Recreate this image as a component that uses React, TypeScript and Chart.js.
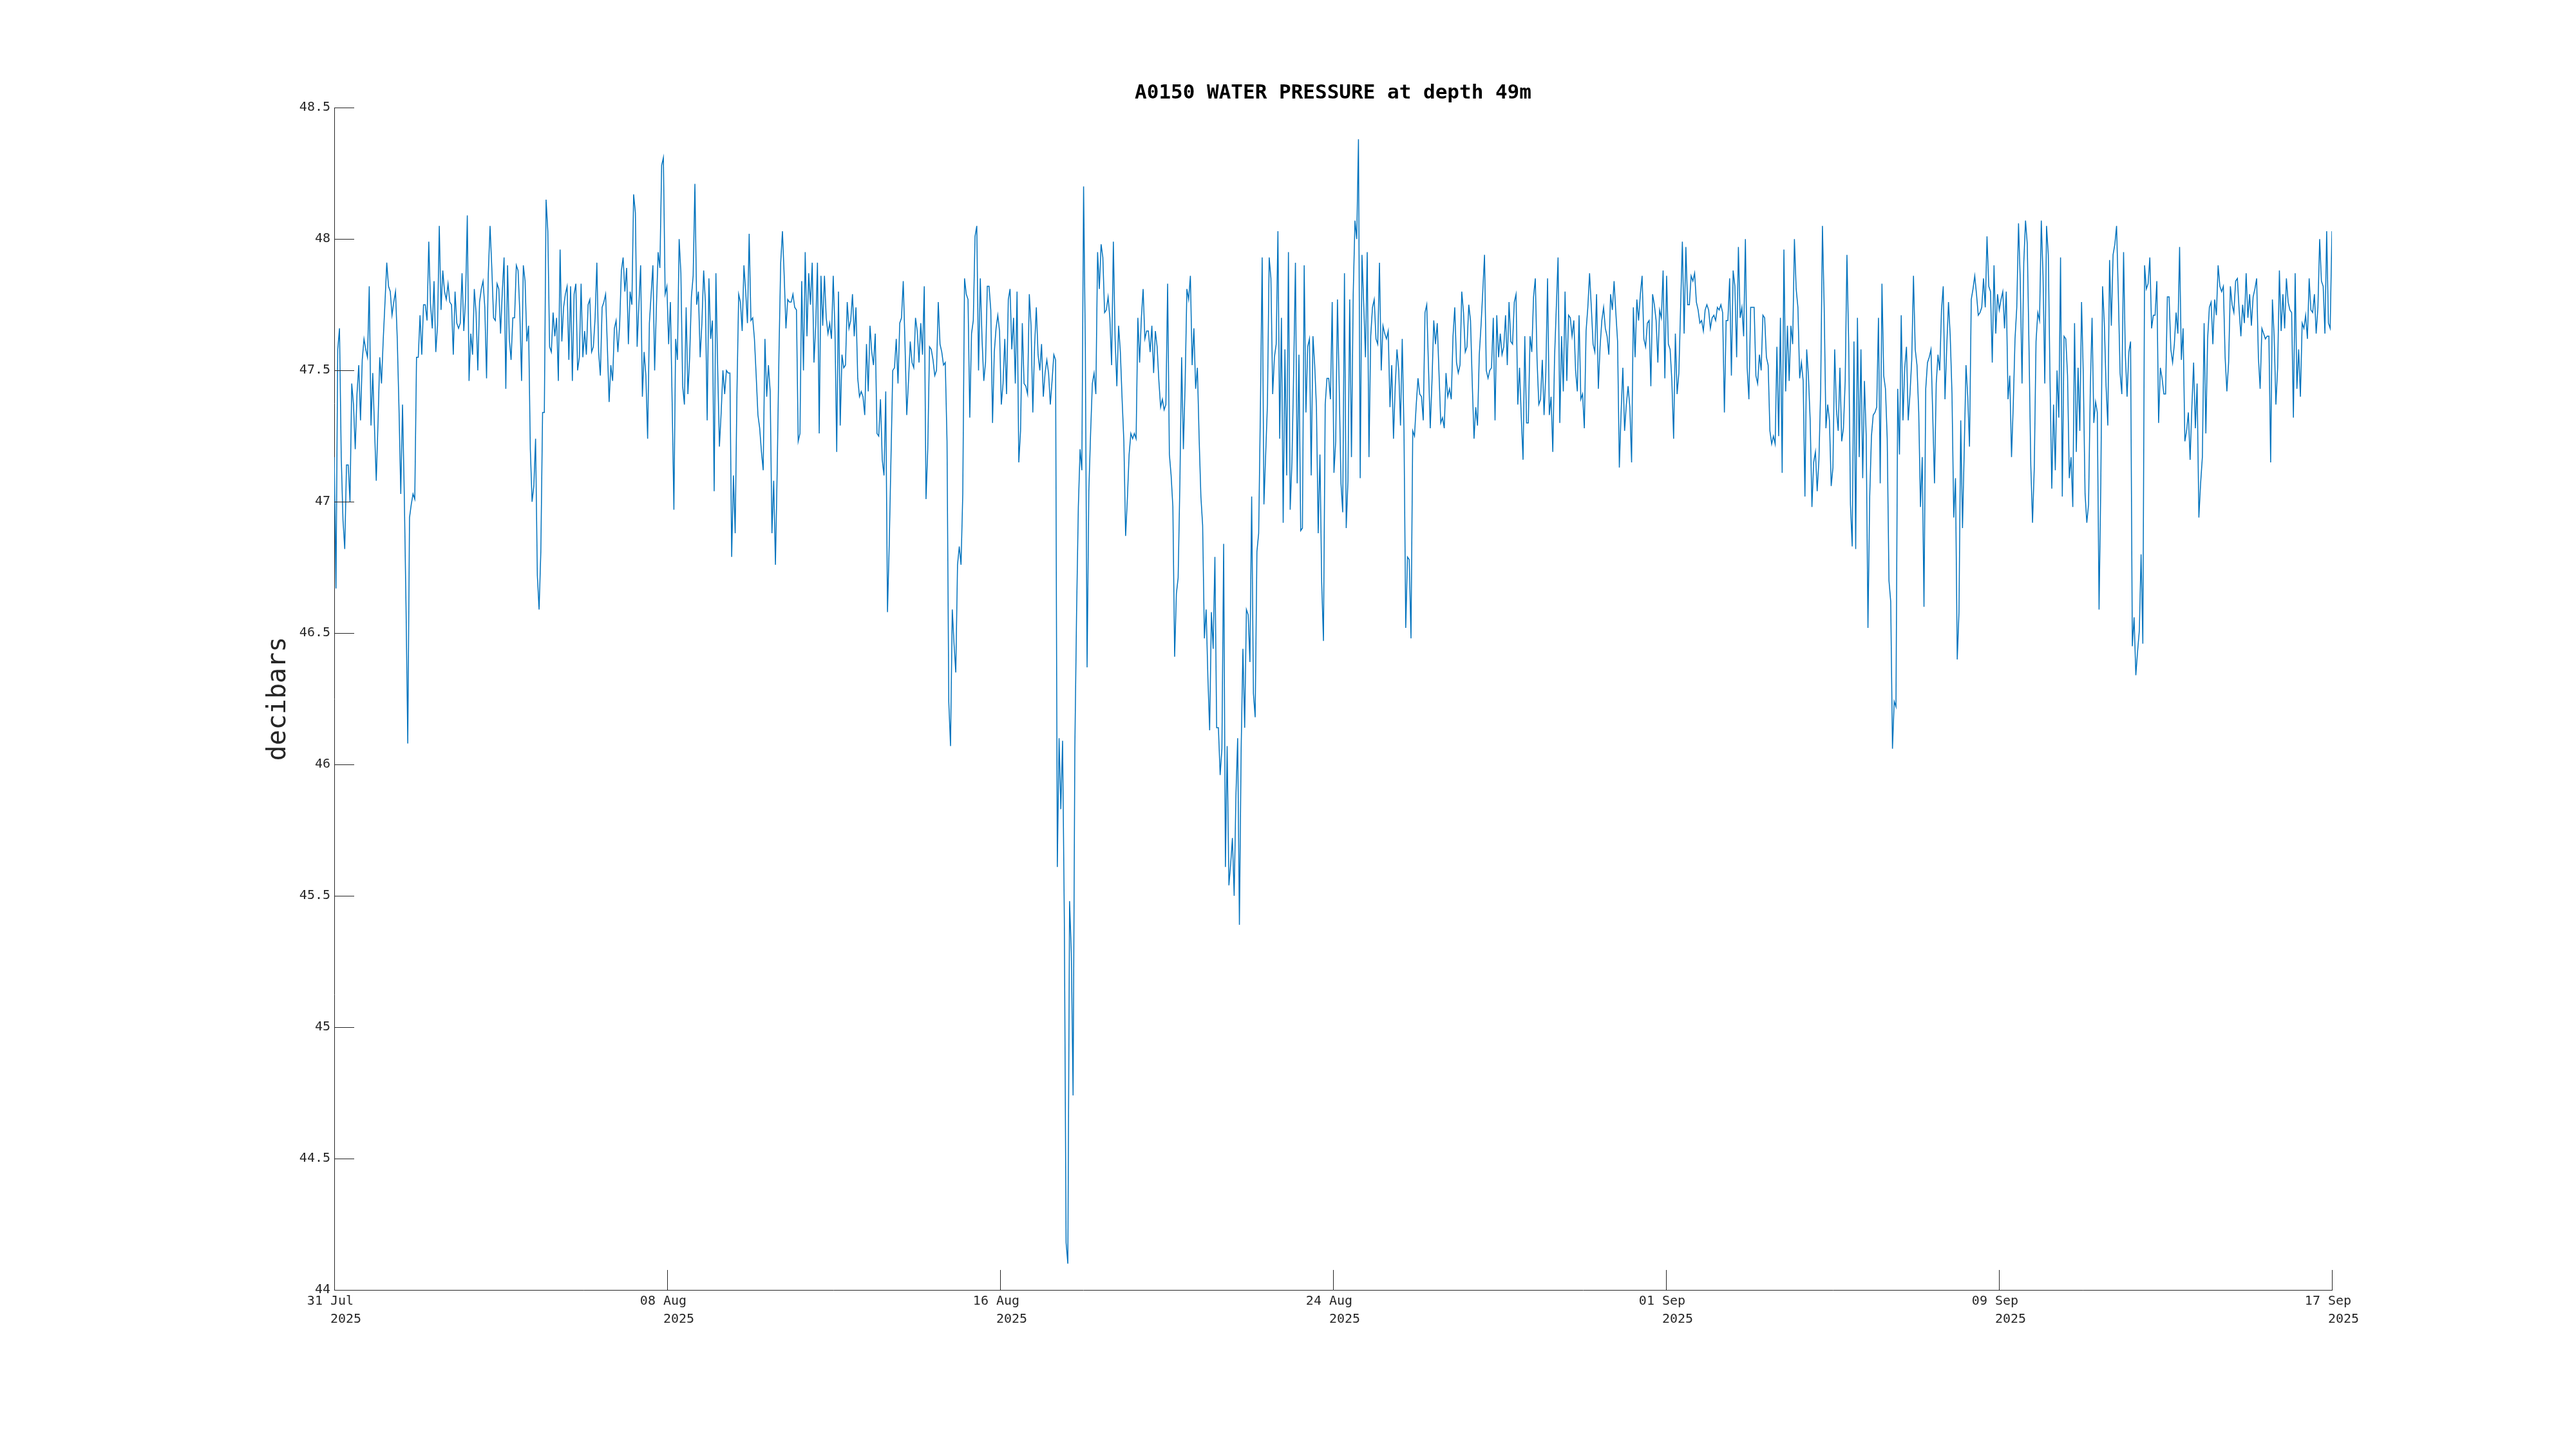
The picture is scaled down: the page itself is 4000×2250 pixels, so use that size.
import React, { useEffect, useRef } from 'react';
import { Chart, registerables } from 'chart.js';

Chart.register(...registerables);

const TITLE = 'A0150 WATER PRESSURE at depth 49m';
const Y_LABEL = 'decibars';
// record spans 31 Jul 2025 00:00 -> 17 Sep 2025 00:00 (days)
const RECORD_DAYS = 48;
const xTickDays = [0, 8, 16, 24, 32, 40, 48];
const xTickLabels = [
  ['31 Jul ', '   2025'],
  ['08 Aug ', '   2025'],
  ['16 Aug ', '   2025'],
  ['24 Aug ', '   2025'],
  ['01 Sep ', '   2025'],
  ['09 Sep ', '   2025'],
  ['17 Sep ', '   2025'],
];
const yTicks = [44, 44.5, 45, 45.5, 46, 46.5, 47, 47.5, 48, 48.5];

// hourly water pressure (decibars), read from the record
const pressure31Jul = [
  47.17, 46.67, 47.58, 47.66, 47.17, 46.93, 46.82, 47.14, 47.14, 47.00,
  47.45, 47.37, 47.20, 47.41, 47.52, 47.31, 47.54, 47.62, 47.58, 47.55,
  47.82, 47.29, 47.49, 47.28, 47.08, 47.30, 47.55, 47.45, 47.62, 47.76,
  47.91, 47.82, 47.80, 47.71, 47.76, 47.80, 47.62, 47.35, 47.03, 47.37,
  47.03, 46.60, 46.08, 46.94, 46.99, 47.03, 47.01, 47.55, 47.55, 47.71,
  47.56, 47.75, 47.75, 47.69, 47.99, 47.75, 47.66, 47.84, 47.57, 47.67,
  48.05, 47.73, 47.88, 47.80, 47.77, 47.83, 47.76, 47.75, 47.56, 47.80,
  47.68, 47.66, 47.68, 47.87, 47.65, 47.77, 48.09, 47.46, 47.64, 47.56,
  47.81, 47.72, 47.50, 47.76, 47.81, 47.84, 47.74, 47.47, 47.87, 48.05,
  47.89, 47.70, 47.69, 47.83, 47.81, 47.64, 47.80, 47.93, 47.43, 47.90,
  47.62, 47.54, 47.70, 47.70, 47.90, 47.88, 47.72, 47.46, 47.90, 47.84,
  47.61, 47.67, 47.20, 47.00, 47.06, 47.24, 46.72, 46.59, 46.81, 47.34,
  47.34, 48.15, 48.03, 47.59, 47.57, 47.72, 47.63, 47.70, 47.46, 47.96,
  47.61, 47.74, 47.79, 47.82, 47.54, 47.82, 47.46, 47.79, 47.83, 47.50,
  47.55, 47.83, 47.55, 47.65, 47.56, 47.75, 47.77, 47.57, 47.59, 47.70,
  47.91, 47.57, 47.48, 47.74, 47.76, 47.79, 47.59, 47.38, 47.52, 47.46,
  47.66, 47.69, 47.57, 47.67, 47.88, 47.93, 47.80, 47.89, 47.60, 47.80,
  47.75, 48.17, 48.10, 47.59, 47.75, 47.90, 47.40, 47.57, 47.48, 47.24,
  47.68, 47.79, 47.90, 47.50, 47.74, 47.95, 47.89, 48.28, 48.31, 47.79,
  47.82, 47.60, 47.76, 47.38,
];
const pressure08Aug = [
  46.97, 47.62, 47.54, 48.00, 47.87, 47.44, 47.37, 47.74, 47.41, 47.55,
  47.78, 47.86, 48.21, 47.75, 47.80, 47.55, 47.68, 47.88, 47.76, 47.31,
  47.85, 47.62, 47.69, 47.04, 47.87, 47.51, 47.21, 47.34, 47.50, 47.41,
  47.50, 47.49, 47.49, 46.79, 47.10, 46.88, 47.41, 47.79, 47.76, 47.65,
  47.90, 47.80, 47.68, 48.02, 47.69, 47.70, 47.62, 47.48, 47.33, 47.28,
  47.19, 47.12, 47.62, 47.40, 47.52, 47.42, 46.88, 47.08, 46.76, 47.12,
  47.56, 47.91, 48.03, 47.86, 47.66, 47.77, 47.76, 47.76, 47.79, 47.74,
  47.73, 47.23, 47.26, 47.84, 47.50, 47.95, 47.63, 47.87, 47.75, 47.91,
  47.53, 47.67, 47.91, 47.26, 47.86, 47.67, 47.86, 47.70, 47.64, 47.68,
  47.62, 47.86, 47.65, 47.19, 47.80, 47.29, 47.56, 47.51, 47.52, 47.76,
  47.66, 47.69, 47.79, 47.63, 47.74, 47.47, 47.40, 47.42, 47.40, 47.33,
  47.60, 47.42, 47.67, 47.57, 47.52, 47.64, 47.26, 47.25, 47.39, 47.16,
  47.10, 47.42, 46.58, 46.84, 47.17, 47.50, 47.51, 47.62, 47.45, 47.68,
  47.70, 47.84, 47.60, 47.33, 47.46, 47.61, 47.53, 47.51, 47.70, 47.65,
  47.53, 47.68, 47.56, 47.82, 47.01, 47.20, 47.59, 47.58, 47.54, 47.48,
  47.50, 47.76, 47.60, 47.57, 47.52, 47.53, 47.23, 46.24, 46.07, 46.59,
  46.46, 46.35, 46.76, 46.83, 46.76, 47.03, 47.85, 47.79, 47.77, 47.32,
  47.64, 47.69, 48.01, 48.05, 47.50, 47.85, 47.62, 47.46, 47.53, 47.82,
  47.82, 47.73, 47.30, 47.57, 47.66, 47.71, 47.65, 47.37, 47.45, 47.62,
];
const pressure16Aug = [
  47.41, 47.77, 47.81, 47.58, 47.70, 47.45, 47.80, 47.15, 47.27, 47.68,
  47.45, 47.44, 47.41, 47.79, 47.67, 47.34, 47.59, 47.74, 47.56, 47.50,
  47.60, 47.40, 47.49, 47.54, 47.49, 47.37, 47.46, 47.56, 47.54, 45.61,
  46.10, 45.83, 46.09, 45.41, 44.18, 44.10, 45.48, 45.28, 44.74, 46.06,
  46.58, 46.98, 47.20, 47.12, 48.20, 47.59, 46.37, 47.04, 47.26, 47.45,
  47.49, 47.41, 47.95, 47.81, 47.98, 47.93, 47.72, 47.73, 47.78, 47.70,
  47.52, 47.99, 47.62, 47.44, 47.67, 47.57, 47.39, 47.23, 46.87, 47.01,
  47.18, 47.26, 47.24, 47.26, 47.24, 47.70, 47.53, 47.70, 47.81, 47.62,
  47.65, 47.65, 47.57, 47.67, 47.49, 47.65, 47.59, 47.46, 47.36, 47.39,
  47.35, 47.37, 47.83, 47.18, 47.10, 46.98, 46.41, 46.65, 46.71, 47.07,
  47.55, 47.20, 47.45, 47.81, 47.77, 47.86, 47.52, 47.66, 47.43, 47.51,
  47.24, 47.02, 46.91, 46.48, 46.59, 46.33, 46.13, 46.58, 46.44, 46.79,
  46.14, 46.14, 45.96, 46.06, 46.84, 45.61, 46.07, 45.54, 45.62, 45.72,
  45.50, 45.88, 46.10, 45.39, 46.06, 46.44, 46.14, 46.59, 46.57, 46.39,
  47.02, 46.27, 46.18, 46.81, 46.88, 47.36, 47.93, 46.99, 47.18, 47.37,
  47.93, 47.85, 47.41, 47.55, 47.60, 48.03, 47.24, 47.70, 46.92, 47.58,
  47.10, 47.95, 46.97, 47.15, 47.50, 47.91, 47.07, 47.56, 46.89, 46.90,
  47.90, 47.34, 47.59, 47.62, 47.10, 47.63, 47.52, 47.36, 46.88, 47.18,
  46.69, 46.47, 47.37, 47.47, 47.47, 47.39, 47.76, 47.11, 47.23, 47.77,
  47.44, 47.07,
];
const pressure24Aug = [
  46.96, 47.87, 46.90, 47.08, 47.77, 47.17, 47.79, 48.07, 48.00, 48.38,
  47.09, 47.94, 47.75, 47.55, 47.95, 47.17, 47.63, 47.74, 47.77, 47.62,
  47.60, 47.91, 47.50, 47.67, 47.64, 47.62, 47.65, 47.36, 47.52, 47.24,
  47.44, 47.58, 47.50, 47.29, 47.62, 47.27, 46.52, 46.79, 46.78, 46.48,
  47.27, 47.25, 47.37, 47.47, 47.41, 47.40, 47.31, 47.72, 47.75, 47.51,
  47.28, 47.46, 47.69, 47.60, 47.68, 47.49, 47.30, 47.32, 47.28, 47.49,
  47.40, 47.43, 47.39, 47.63, 47.74, 47.53, 47.49, 47.52, 47.80, 47.72,
  47.57, 47.59, 47.75, 47.69, 47.45, 47.24, 47.36, 47.29, 47.56, 47.67,
  47.80, 47.94, 47.50, 47.47, 47.50, 47.51, 47.70, 47.31, 47.71, 47.55,
  47.64, 47.56, 47.59, 47.71, 47.52, 47.76, 47.61, 47.60, 47.76, 47.79,
  47.37, 47.51, 47.32, 47.16, 47.63, 47.30, 47.30, 47.63, 47.57, 47.78,
  47.85, 47.54, 47.37, 47.39, 47.54, 47.33, 47.49, 47.85, 47.33, 47.40,
  47.19, 47.55, 47.74, 47.93, 47.30, 47.63, 47.42, 47.80, 47.46, 47.71,
  47.70, 47.63, 47.69, 47.50, 47.42, 47.71, 47.39, 47.41, 47.28, 47.65,
  47.74, 47.87, 47.74, 47.60, 47.57, 47.79, 47.43, 47.59, 47.69, 47.74,
  47.66, 47.63, 47.56, 47.79, 47.73, 47.84, 47.72, 47.61, 47.13, 47.34,
  47.51, 47.27, 47.37, 47.44, 47.36, 47.15, 47.74, 47.55, 47.77, 47.69,
  47.79, 47.86, 47.62, 47.59, 47.68, 47.69, 47.44, 47.79, 47.75, 47.69,
  47.53, 47.73, 47.70, 47.88, 47.47, 47.86, 47.60, 47.58, 47.46, 47.24,
  47.64,
];
const pressure01Sep = [
  47.41, 47.49, 47.74, 47.99, 47.64, 47.97, 47.75, 47.75, 47.86, 47.84,
  47.87, 47.76, 47.73, 47.68, 47.69, 47.65, 47.73, 47.75, 47.73, 47.66,
  47.70, 47.71, 47.69, 47.74, 47.73, 47.75, 47.72, 47.34, 47.69, 47.69,
  47.85, 47.48, 47.88, 47.82, 47.55, 47.97, 47.70, 47.74, 47.63, 48.00,
  47.51, 47.39, 47.74, 47.74, 47.74, 47.48, 47.45, 47.56, 47.50, 47.71,
  47.70, 47.55, 47.52, 47.27, 47.22, 47.25, 47.22, 47.59, 47.25, 47.70,
  47.11, 47.96, 47.42, 47.67, 47.46, 47.67, 47.60, 48.00, 47.81, 47.74,
  47.47, 47.53, 47.46, 47.02, 47.58, 47.48, 47.31, 46.98, 47.15, 47.19,
  47.04, 47.16, 47.43, 48.05, 47.74, 47.28, 47.37, 47.31, 47.06, 47.13,
  47.58, 47.35, 47.27, 47.51, 47.23, 47.28, 47.46, 47.94, 47.60, 46.99,
  46.83, 47.61, 46.82, 47.70, 47.17, 47.58, 47.09, 47.46, 47.25, 46.52,
  47.02, 47.25, 47.33, 47.34, 47.36, 47.70, 47.07, 47.83, 47.48, 47.43,
  47.24, 46.70, 46.62, 46.06, 46.24, 46.22, 47.43, 47.18, 47.71, 47.31,
  47.51, 47.59, 47.31, 47.41, 47.54, 47.86, 47.58, 47.52, 47.34, 46.98,
  47.17, 46.60, 47.43, 47.53, 47.55, 47.58, 47.33, 47.07, 47.45, 47.56,
  47.50, 47.73, 47.82, 47.39, 47.59, 47.76, 47.63, 47.41, 46.94, 47.09,
  46.40, 46.58, 47.31, 46.90, 47.20, 47.52, 47.40, 47.21, 47.77, 47.81,
  47.86, 47.79, 47.71, 47.72, 47.74, 47.85, 47.74, 48.01, 47.82, 47.80,
  47.53, 47.90, 47.64, 47.79, 47.73, 47.77, 47.80, 47.66, 47.80, 47.39,
  47.48, 47.17,
];
const pressure09Sep = [
  47.37, 47.62, 47.74, 48.06, 47.84, 47.45, 47.91, 48.07, 47.98, 47.58,
  47.14, 46.92, 47.13, 47.61, 47.72, 47.69, 48.07, 47.86, 47.45, 48.05,
  47.94, 47.46, 47.05, 47.37, 47.12, 47.50, 47.32, 47.93, 47.02, 47.63,
  47.62, 47.48, 47.09, 47.17, 46.98, 47.68, 47.19, 47.51, 47.27, 47.76,
  47.48, 47.03, 46.92, 46.99, 47.43, 47.70, 47.30, 47.38, 47.34, 46.59,
  47.07, 47.82, 47.68, 47.44, 47.29, 47.92, 47.67, 47.94, 47.98, 48.05,
  47.79, 47.49, 47.41, 47.95, 47.56, 47.40, 47.57, 47.61, 46.45, 46.56,
  46.34, 46.43, 46.51, 46.80, 46.46, 47.90, 47.81, 47.83, 47.93, 47.66,
  47.71, 47.71, 47.84, 47.30, 47.51, 47.47, 47.41, 47.41, 47.78, 47.78,
  47.58, 47.53, 47.60, 47.72, 47.64, 47.97, 47.54, 47.66, 47.23, 47.27,
  47.34, 47.16, 47.36, 47.53, 47.28, 47.45, 46.94, 47.07, 47.17, 47.68,
  47.26, 47.62, 47.74, 47.76, 47.60, 47.77, 47.71, 47.90, 47.82, 47.80,
  47.82, 47.55, 47.42, 47.53, 47.82, 47.75, 47.72, 47.84, 47.85, 47.73,
  47.63, 47.75, 47.68, 47.87, 47.70, 47.79, 47.67, 47.78, 47.81, 47.85,
  47.55, 47.43, 47.66, 47.64, 47.62, 47.63, 47.63, 47.15, 47.77, 47.63,
  47.37, 47.51, 47.88, 47.65, 47.79, 47.66, 47.85, 47.76, 47.73, 47.72,
  47.32, 47.87, 47.43, 47.58, 47.40, 47.68, 47.66, 47.71, 47.62, 47.85,
  47.73, 47.72, 47.79, 47.64, 47.74, 48.00, 47.84, 47.82, 47.64, 48.03,
  47.68, 47.66, 48.03,
];

const AXIS_COLOR = '#262626';
const LINE_COLOR = 'rgb(0,114,189)';
const FONT = "'DejaVu Sans Mono', monospace";

export default function App() {
  const canvasRef = useRef<HTMLCanvasElement | null>(null);

  useEffect(() => {
    const canvas = canvasRef.current;
    if (!canvas) return;
    const values = [
      ...pressure31Jul,
      ...pressure08Aug,
      ...pressure16Aug,
      ...pressure24Aug,
      ...pressure01Sep,
      ...pressure09Sep,
    ];
    const step = RECORD_DAYS / (values.length - 1);
    const points = values.map((v, i) => ({ x: i * step, y: v }));

    const inwardTicks = {
      id: 'inwardTicks',
      afterDatasetsDraw(chart: any) {
        const { ctx, chartArea: a, scales } = chart;
        const xs = scales.x;
        const ys = scales.y;
        ctx.save();
        ctx.strokeStyle = AXIS_COLOR;
        ctx.lineWidth = 1;
        ctx.beginPath();
        for (const v of yTicks) {
          const p = Math.round(ys.getPixelForValue(v)) + 0.5;
          ctx.moveTo(a.left, p);
          ctx.lineTo(a.left + 31, p);
        }
        for (const v of xTickDays) {
          const p = Math.round(xs.getPixelForValue(v)) + 0.5;
          ctx.moveTo(p, a.bottom);
          ctx.lineTo(p, a.bottom - 31);
        }
        ctx.stroke();
        ctx.restore();
      },
    };

    const chart = new Chart(canvas, {
      type: 'line',
      data: {
        datasets: [
          {
            data: points,
            borderColor: LINE_COLOR,
            borderWidth: 1.5,
            pointRadius: 0,
            fill: false,
            tension: 0,
          },
        ],
      },
      options: {
        animation: false,
        responsive: false,
        devicePixelRatio: 1,
        parsing: false,
        normalized: true,
        layout: { padding: { left: 0, right: 379, top: 0, bottom: 0 } },
        plugins: {
          legend: { display: false },
          tooltip: { enabled: false },
          title: {
            display: true,
            text: TITLE,
            fullSize: false,
            color: '#000000',
            font: { family: FONT, size: 31, weight: 'bold', lineHeight: 1.2 },
            padding: { top: 126, bottom: 4 },
          },
        },
        scales: {
          x: {
            type: 'linear',
            min: 0,
            max: RECORD_DAYS,
            grid: { display: false, drawTicks: false },
            border: { display: true, color: AXIS_COLOR, width: 1 },
            afterBuildTicks: (s: any) => {
              s.ticks = xTickDays.map((v) => ({ value: v }));
            },
            afterFit: (s: any) => {
              s.height = 247;
            },
            ticks: {
              autoSkip: false,
              maxRotation: 0,
              minRotation: 0,
              padding: 4,
              color: AXIS_COLOR,
              font: { family: FONT, size: 20, lineHeight: 1.4 },
              callback: (_v: any, i: number) => xTickLabels[i],
            },
          },
          y: {
            type: 'linear',
            min: 44,
            max: 48.5,
            grid: { display: false, drawTicks: false },
            border: { display: true, color: AXIS_COLOR, width: 1 },
            afterBuildTicks: (s: any) => {
              s.ticks = yTicks.map((v) => ({ value: v }));
            },
            afterFit: (s: any) => {
              s.width = 519;
            },
            ticks: {
              autoSkip: false,
              padding: 6,
              color: AXIS_COLOR,
              font: { family: FONT, size: 20, lineHeight: 1.2 },
              callback: (v: any) => String(v),
            },
            title: {
              display: true,
              text: Y_LABEL,
              color: AXIS_COLOR,
              font: { family: FONT, size: 40, lineHeight: 1.2 },
              padding: { top: 409, bottom: 0 },
            },
          },
        },
      },
      plugins: [inwardTicks],
    } as any);

    return () => chart.destroy();
  }, []);

  return (
    <div
      style={{
        position: 'absolute',
        left: 0,
        top: 0,
        width: 4000,
        height: 2250,
        background: '#ffffff',
      }}
    >
      <canvas
        ref={canvasRef}
        width={4000}
        height={2250}
        style={{ display: 'block', width: 4000, height: 2250 }}
      />
    </div>
  );
}
